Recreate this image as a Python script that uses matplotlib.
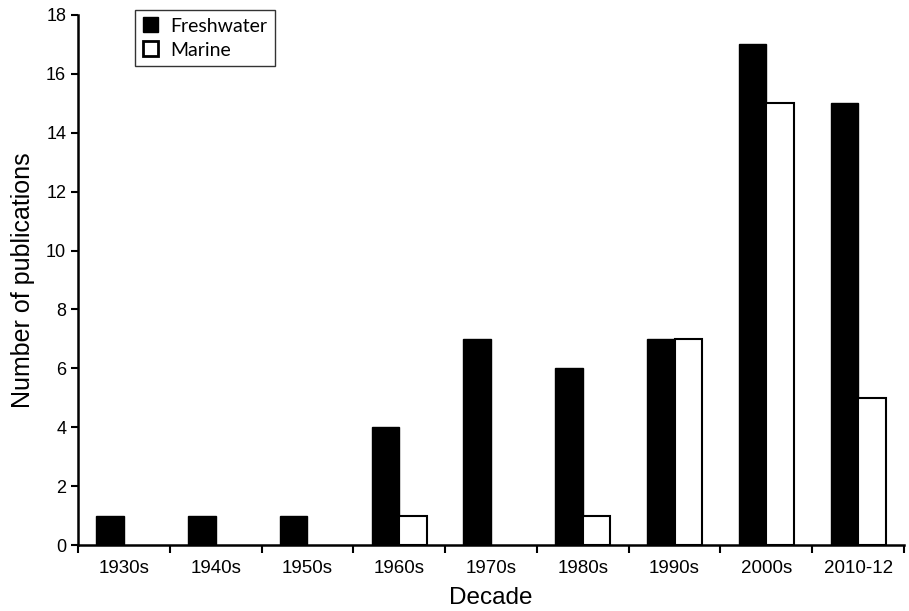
import numpy as np
import matplotlib.pyplot as plt
from matplotlib.patches import Patch

decades = ['1930s', '1940s', '1950s', '1960s', '1970s', '1980s', '1990s', '2000s', '2010-12']
freshwater = [1, 1, 1, 4, 7, 6, 7, 17, 15]
marine = [0, 0, 0, 1, 0, 1, 7, 15, 5]

plt.rcParams['font.family'] = ['Liberation Sans', 'DejaVu Sans']

fig = plt.figure(figsize=(9.09, 6.11), dpi=100)
ax = fig.add_axes([0.0858, 0.108, 0.9087, 0.8675])

x = np.arange(len(decades))
w = 0.3
fw = np.array(freshwater)
mr = np.array(marine)
ax.bar(x - w/2, fw, w, color='black', edgecolor='black', linewidth=1)
# skip zero-height marine bars so no flat outline is drawn
nz = mr > 0
ax.bar(x[nz] + w/2, mr[nz], w, color='white', edgecolor='black', linewidth=1.5)

ax.set_xlim(-0.5, len(decades) - 0.5)
ax.set_ylim(0, 18)
ax.set_yticks(range(0, 19, 2))
ax.set_xticks(x)
ax.set_xticklabels(decades, fontsize=13.5)
ax.tick_params(axis='x', length=0, pad=11)
ax.set_xticks(np.arange(-0.5, len(decades)), minor=True)
ax.tick_params(axis='x', which='minor', length=6, width=1.5, direction='out')
ax.tick_params(axis='y', labelsize=13, length=5, width=1.5, direction='out')

for s in ['top', 'right']:
    ax.spines[s].set_visible(False)
for s in ['left', 'bottom']:
    ax.spines[s].set_linewidth(1.8)

ax.set_xlabel('Decade', fontsize=17.5, labelpad=7)
ax.set_ylabel('Number of publications', fontsize=18, labelpad=8)

handles = [Patch(facecolor='black', edgecolor='black', label='Freshwater'),
           Patch(facecolor='white', edgecolor='black', linewidth=2, label='Marine')]
leg = ax.legend(handles=handles, loc='upper left', bbox_to_anchor=(0.069, 1.01),
                borderaxespad=0,
                frameon=True, fancybox=False, edgecolor='black',
                prop={'family': ['Lato', 'DejaVu Sans'], 'size': 14},
                handlelength=0.8, handleheight=0.8, handletextpad=0.6,
                borderpad=0.4, labelspacing=0.35)
leg.get_frame().set_linewidth(1)

fig.savefig('out.png', dpi=100)
